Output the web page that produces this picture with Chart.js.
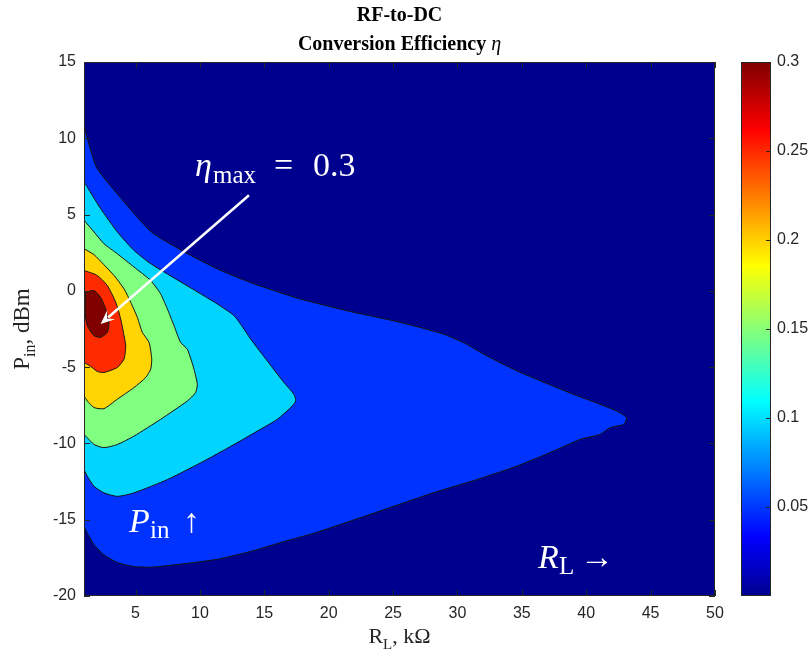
<!DOCTYPE html>
<html>
<head>
<meta charset="utf-8">
<title>RF-to-DC Conversion Efficiency</title>
<script src="https://cdn.jsdelivr.net/npm/chart.js@4.4.1/dist/chart.umd.min.js"></script>
<style>
  html, body { margin: 0; padding: 0; background: #fff; }
  #wrap { position: relative; width: 812px; height: 663px; }
  #main { position: absolute; left: 0; top: 0; }
  #cbar { position: absolute; left: 700px; top: 0; }
</style>
</head>
<body>
<div id="wrap">
  <canvas id="main" width="812" height="663"></canvas>
  <canvas id="cbar" width="112" height="663"></canvas>
</div>
<script>
// axis ranges and tick labels
const xRange = [1, 50];
const yRange = [-20, 15];
const xTicks = [5, 10, 15, 20, 25, 30, 35, 40, 45, 50];
const yTicks = [-20, -15, -10, -5, 0, 5, 10, 15];
const cbarTicks = [0.05, 0.1, 0.15, 0.2, 0.25, 0.3];

// contour levels of eta and the colour of the region above each one
const levels = [0.05, 0.1, 0.15, 0.2, 0.25, 0.3];
const levelColors = ['#0033ff', '#00d4ff', '#80ff80', '#ffd400', '#ff2b00', '#800000'];
const baseColor = '#00008f';

// jet colormap for the colorbar
const jetStops = [[0, '#00008f'], [0.111, '#0000ff'], [0.365, '#00ffff'], [0.619, '#ffff00'], [0.873, '#ff0000'], [1, '#800000']];

// contour outlines as [R_L (kOhm), P_in (dBm)]
const eta005 = [
  [1, 10.8], [1.47, 9.34], [2.01, 8.03], [3.56, 6.38], [6.2, 3.88], [8.76, 2.57],
  [11.33, 1.45], [13.97, 0.53], [16.53, -0.2], [17.77, -0.53], [21.4, -1.3],
  [25.53, -2.06], [28.9, -2.83], [30.7, -3.49], [32.0, -4.14], [34.6, -5.24],
  [37.4, -6.23], [39.0, -6.78], [41.06, -7.43], [42.36, -7.88], [43.13, -8.31],
  [42.9, -8.75], [41.84, -8.97], [41.06, -9.41], [39.5, -9.74], [37.44, -10.51],
  [34.6, -11.49], [31.5, -12.37], [28.1, -13.24], [26.57, -13.68], [22.7, -14.8],
  [18.86, -15.88], [16.53, -16.43], [13.94, -17.08], [11.35, -17.59], [8.76, -17.89],
  [6.18, -18.11], [4.88, -18.07], [3.59, -17.8], [2.55, -17.3], [1.78, -16.64],
  [1.26, -15.88], [1, -15.44]
];
const eta010 = [
  [1, 7.15], [2.29, 5.39], [3.59, 3.86], [4.88, 2.65], [6.18, 1.78], [8.76, 0.46],
  [11.35, -0.86], [12.65, -1.63], [13.42, -2.5], [13.94, -3.16], [15.23, -4.59],
  [16.53, -6.01], [17.3, -6.78], [17.44, -7.22], [17.05, -7.65], [16.01, -8.42],
  [14.46, -9.19], [12.65, -10.07], [10.06, -11.27], [7.47, -12.37], [4.88, -13.24],
  [3.59, -13.47], [2.55, -13.24], [1.78, -12.81], [1.26, -12.15], [1, -11.71]
];
const eta015 = [
  [1, 4.63], [1.78, 3.86], [2.55, 3.09], [3.59, 2.43], [4.88, 1.56], [6.18, 0.68],
  [6.95, -0.2], [7.47, -1.18], [7.99, -2.28], [8.5, -3.38], [9.02, -3.82],
  [9.54, -5.13], [9.8, -6.12], [9.67, -6.66], [9.02, -7.22], [6.95, -8.42],
  [4.88, -9.52], [3.59, -10.07], [2.55, -10.28], [1.78, -10.07], [1.26, -9.63], [1, -9.41]
];
const eta020 = [
  [1, 2.76], [1.78, 2.37], [2.55, 1.71], [3.33, 1.01], [4.11, 0.13], [4.62, -0.74],
  [5.14, -1.73], [5.53, -2.72], [6.05, -3.38], [6.26, -4.47], [6.18, -5.13],
  [5.79, -5.68], [4.88, -6.34], [3.59, -7.1], [2.55, -7.72], [1.78, -7.65],
  [1.26, -7.22], [1, -6.89]
];
const eta025 = [
  [1, 1.34], [2.03, 1.01], [2.81, 0.35], [3.46, -0.74], [3.85, -1.84], [4.11, -2.94],
  [4.24, -3.6], [4.11, -4.47], [3.59, -5.02], [2.55, -5.35], [2.03, -5.28],
  [1.52, -4.95], [1, -4.69]
];
const eta030 = [
  [1.13, -0.09], [1.78, 0.02], [2.29, -0.42], [2.68, -1.18], [2.94, -2.06],
  [2.81, -2.72], [2.29, -3.05], [1.78, -2.94], [1.26, -2.28], [1.08, -1.4], [1.13, -0.09]
];
const contours = [eta005, eta010, eta015, eta020, eta025, eta030];

// location of the efficiency peak
const etaMaxAt = [2.29, -2.17];

const serif = '"Liberation Serif", "Times New Roman", serif';
const sans = '"Liberation Sans", Arial, sans-serif';

// draws a run of text pieces, each with its own font and offsets
function drawRun(ctx, x, y, parts) {
  parts.forEach(p => {
    ctx.font = p.font;
    ctx.fillText(p.t, x + p.dx, y + (p.dy || 0));
  });
}

// navy fill under all contour regions
const plotBackground = {
  id: 'plotBackground',
  beforeDraw(chart) {
    const {ctx, chartArea: a} = chart;
    ctx.save();
    ctx.fillStyle = baseColor;
    ctx.fillRect(a.left, a.top, a.width, a.height);
    ctx.restore();
  }
};

// box around the plot with inward tick marks
const frameAndTicks = {
  id: 'frameAndTicks',
  afterDatasetsDraw(chart, args, opts) {
    const {ctx, chartArea: a} = chart;
    const len = opts.len || 6;
    ctx.save();
    ctx.strokeStyle = '#262626';
    ctx.lineWidth = 1;
    ctx.beginPath();
    if (opts.x) {
      const sx = chart.scales.x;
      sx.ticks.forEach(t => {
        const px = Math.round(sx.getPixelForValue(t.value)) + 0.5;
        ctx.moveTo(px, a.bottom); ctx.lineTo(px, a.bottom - len);
        ctx.moveTo(px, a.top); ctx.lineTo(px, a.top + len);
      });
    }
    const sy = chart.scales.y;
    sy.ticks.forEach(t => {
      const py = Math.round(sy.getPixelForValue(t.value)) + 0.5;
      if (opts.left) { ctx.moveTo(a.left, py); ctx.lineTo(a.left + len, py); }
      ctx.moveTo(a.right, py); ctx.lineTo(a.right - len, py);
    });
    ctx.stroke();
    ctx.strokeRect(a.left + 0.5, a.top + 0.5, a.width - 1, a.height - 1);
    ctx.restore();
  }
};

// title, axis labels and the annotations inside the plot
const labels = {
  id: 'labels',
  afterDraw(chart) {
    const {ctx, chartArea: a, scales} = chart;
    const px = v => scales.x.getPixelForValue(v);
    const py = v => scales.y.getPixelForValue(v);
    const cx = (a.left + a.right) / 2;
    ctx.save();

    // title
    ctx.fillStyle = '#000';
    ctx.textBaseline = 'alphabetic';
    ctx.textAlign = 'center';
    ctx.font = 'bold 20px ' + serif;
    ctx.fillText('RF-to-DC', cx, 21);
    const t1 = 'Conversion Efficiency ';
    const w1 = ctx.measureText(t1).width;
    ctx.font = 'italic 20px ' + serif;
    const w2 = ctx.measureText('η').width;
    ctx.textAlign = 'left';
    const tx = cx - (w1 + w2) / 2;
    drawRun(ctx, tx, 50, [
      {t: t1, font: 'bold 20px ' + serif, dx: 0},
      {t: 'η', font: 'italic 20px ' + serif, dx: w1}
    ]);

    // x axis label
    ctx.fillStyle = '#262626';
    ctx.font = '22px ' + serif;
    const rw = ctx.measureText('R').width;
    ctx.font = '15px ' + serif;
    const lw = ctx.measureText('L').width;
    ctx.font = '22px ' + serif;
    const kw = ctx.measureText(', kΩ').width;
    const xl = cx - (rw + lw + kw) / 2;
    drawRun(ctx, xl, 643, [
      {t: 'R', font: '22px ' + serif, dx: 0},
      {t: 'L', font: '15px ' + serif, dx: rw, dy: 6},
      {t: ', kΩ', font: '22px ' + serif, dx: rw + lw}
    ]);

    // y axis label
    ctx.save();
    ctx.translate(29, (a.top + a.bottom) / 2);
    ctx.rotate(-Math.PI / 2);
    ctx.font = '23px ' + serif;
    const pw = ctx.measureText('P').width;
    ctx.font = '16px ' + serif;
    const iw = ctx.measureText('in').width;
    ctx.font = '23px ' + serif;
    const dw = ctx.measureText(', dBm').width;
    const yl = -(pw + iw + dw) / 2;
    drawRun(ctx, yl, 0, [
      {t: 'P', font: '23px ' + serif, dx: 0},
      {t: 'in', font: '16px ' + serif, dx: pw, dy: 6},
      {t: ', dBm', font: '23px ' + serif, dx: pw + iw}
    ]);
    ctx.restore();

    // arrow to the efficiency peak
    ctx.strokeStyle = '#fff';
    ctx.fillStyle = '#fff';
    const x0 = px(13.81), y0 = py(6.27);
    const x1 = px(etaMaxAt[0]), y1 = py(etaMaxAt[1]);
    const ang = Math.atan2(y1 - y0, x1 - x0);
    const head = 14, half = 6;
    ctx.lineWidth = 2.5;
    ctx.beginPath();
    ctx.moveTo(x0, y0);
    ctx.lineTo(x1 - Math.cos(ang) * head * 0.7, y1 - Math.sin(ang) * head * 0.7);
    ctx.stroke();
    ctx.beginPath();
    ctx.moveTo(x1, y1);
    ctx.lineTo(x1 - Math.cos(ang) * head - Math.sin(ang) * half, y1 - Math.sin(ang) * head + Math.cos(ang) * half);
    ctx.lineTo(x1 - Math.cos(ang) * head * 0.6, y1 - Math.sin(ang) * head * 0.6);
    ctx.lineTo(x1 - Math.cos(ang) * head + Math.sin(ang) * half, y1 - Math.sin(ang) * head - Math.cos(ang) * half);
    ctx.closePath();
    ctx.fill();

    // math annotations
    ctx.textAlign = 'left';
    const etaMax = levels[levels.length - 1];
    drawRun(ctx, px(9.62), py(7.5), [
      {t: 'η', font: 'italic 34px ' + serif, dx: 0},
      {t: 'max', font: '25px ' + serif, dx: 18, dy: 7},
      {t: '=', font: '34px ' + serif, dx: 79},
      {t: String(etaMax), font: '34px ' + serif, dx: 118}
    ]);
    drawRun(ctx, px(4.49), py(-15.79), [
      {t: 'P', font: 'italic 34px ' + serif, dx: 0},
      {t: 'in', font: '25px ' + serif, dx: 21, dy: 6},
      {t: '↑', font: '34px ' + serif, dx: 54}
    ]);
    drawRun(ctx, px(36.25), py(-18.16), [
      {t: 'R', font: 'italic 34px ' + serif, dx: 0},
      {t: 'L', font: '25px ' + serif, dx: 21, dy: 6},
      {t: '→', font: '34px ' + serif, dx: 42}
    ]);
    ctx.restore();
  }
};

const datasets = contours.map((c, i) => ({
  label: 'η ≥ ' + levels[i],
  data: c.map(p => ({x: p[0], y: p[1]})),
  showLine: true,
  fill: 'shape',
  backgroundColor: levelColors[i],
  borderColor: '#151515',
  borderWidth: 1,
  pointRadius: 0,
  tension: 0.2,
  order: contours.length - i
}));

const tickFont = {family: sans, size: 16};
const plainNumber = v => String(+Number(v).toFixed(3));

new Chart(document.getElementById('main'), {
  type: 'scatter',
  data: {datasets: datasets},
  options: {
    responsive: false,
    animation: false,
    devicePixelRatio: 1,
    events: [],
    layout: {padding: {top: 62, right: 97, bottom: 0, left: 0}},
    plugins: {
      legend: {display: false},
      tooltip: {enabled: false},
      title: {display: false},
      frameAndTicks: {x: true, left: true, len: 6}
    },
    scales: {
      x: {
        type: 'linear', min: xRange[0], max: xRange[1],
        afterBuildTicks: s => { s.ticks = xTicks.map(v => ({value: v})); },
        afterFit: s => { s.height = 67; },
        grid: {display: false, drawTicks: false},
        border: {display: false},
        ticks: {font: tickFont, color: '#262626', padding: 8, maxRotation: 0, autoSkip: false, callback: plainNumber}
      },
      y: {
        type: 'linear', min: yRange[0], max: yRange[1],
        afterBuildTicks: s => { s.ticks = yTicks.map(v => ({value: v})); },
        afterFit: s => { s.width = 84; },
        grid: {display: false, drawTicks: false},
        border: {display: false},
        ticks: {font: tickFont, color: '#262626', padding: 8, autoSkip: false, callback: plainNumber}
      }
    }
  },
  plugins: [plotBackground, frameAndTicks, labels]
});

// colorbar
new Chart(document.getElementById('cbar'), {
  type: 'bar',
  data: {
    labels: ['η'],
    datasets: [{
      data: [[0, levels[levels.length - 1]]],
      backgroundColor: c => {
        const a = c.chart.chartArea;
        if (!a) return baseColor;
        const g = c.chart.ctx.createLinearGradient(0, a.bottom, 0, a.top);
        jetStops.forEach(s => g.addColorStop(s[0], s[1]));
        return g;
      },
      borderWidth: 0,
      barPercentage: 1,
      categoryPercentage: 1
    }]
  },
  options: {
    responsive: false,
    animation: false,
    devicePixelRatio: 1,
    events: [],
    layout: {padding: {top: 62, right: 0, bottom: 67, left: 41}},
    plugins: {
      legend: {display: false},
      tooltip: {enabled: false},
      frameAndTicks: {x: false, left: false, len: 5}
    },
    scales: {
      x: {display: false},
      y: {
        position: 'right',
        min: 0, max: levels[levels.length - 1],
        afterBuildTicks: s => { s.ticks = cbarTicks.map(v => ({value: v})); },
        afterFit: s => { s.width = 41; },
        grid: {display: false, drawTicks: false},
        border: {display: false},
        ticks: {font: tickFont, color: '#262626', padding: 6, autoSkip: false, callback: plainNumber}
      }
    }
  },
  plugins: [frameAndTicks]
});
</script>
</body>
</html>
